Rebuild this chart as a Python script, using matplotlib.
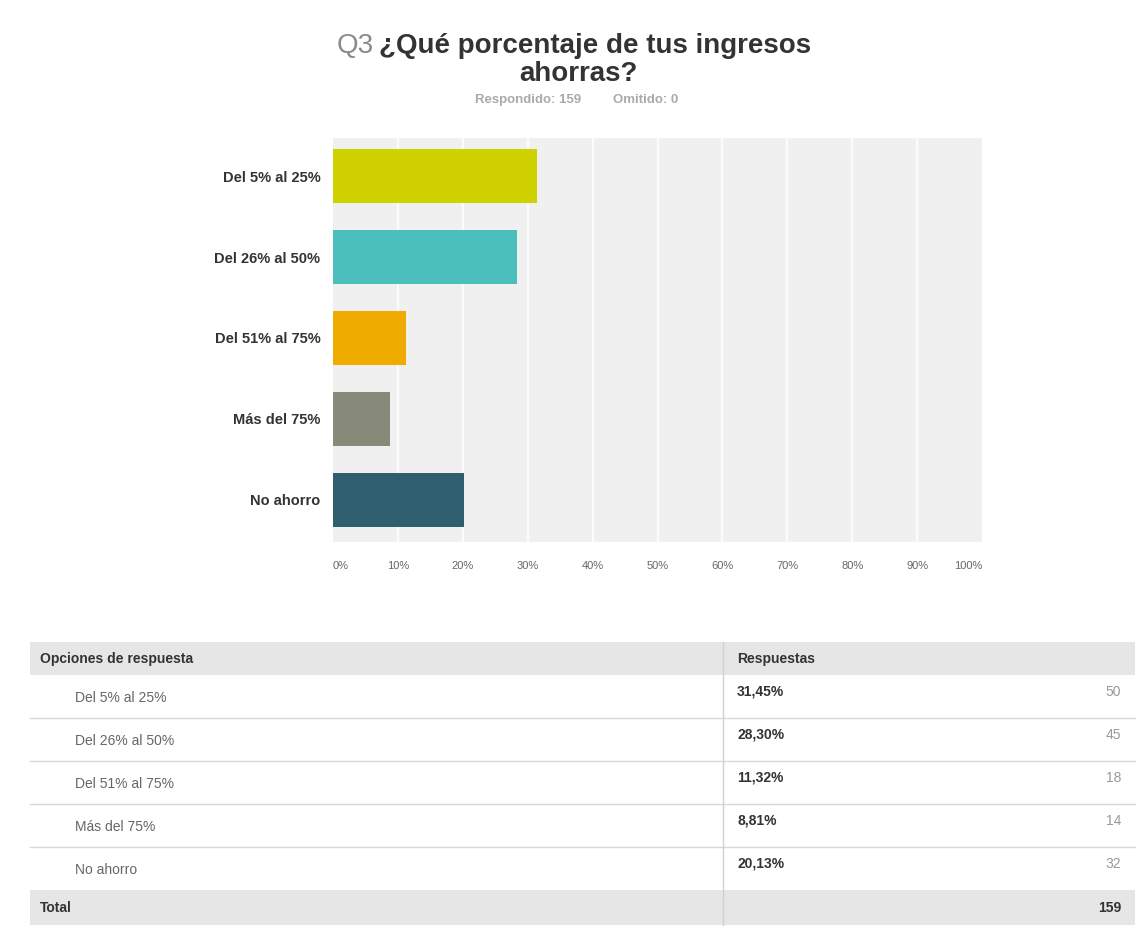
import matplotlib
matplotlib.use("Agg")
import matplotlib.pyplot as plt
from matplotlib.patches import Rectangle

plt.rcParams["font.family"] = ["Liberation Sans", "DejaVu Sans"]

# survey data
categories = ["Del 5% al 25%", "Del 26% al 50%", "Del 51% al 75%", "Más del 75%", "No ahorro"]
percentages = [31.45, 28.30, 11.32, 8.81, 20.13]
counts = [50, 45, 18, 14, 32]
total = 159
omitted = 0
bar_colors = ["#cfd200", "#4bbfbb", "#f0ab00", "#878a78", "#2f5f6e"]
xticks = list(range(0, 101, 10))

W, H = 1139, 930
fig = plt.figure(figsize=(W / 100, H / 100), dpi=100)
fig.patch.set_facecolor("white")

# ---- bar chart ----
ax = fig.add_axes([333 / W, 1 - 542 / H, 649 / W, 404 / H])
ax.set_facecolor("#f0f0f0")
for x in xticks[1:-1]:
    ax.axvline(x, color="#fbfbfb", linewidth=1.6, zorder=1)
ypos = list(range(len(categories)))
ax.barh(ypos, percentages, height=0.66, color=bar_colors, zorder=3)
ax.set_xlim(0, 100)
ax.set_ylim(4.52, -0.47)
ax.set_yticks(ypos)
ax.set_yticklabels(categories, fontsize=10.5, fontweight="bold", color="#333333")
ax.set_xticks(xticks)
ax.set_xticklabels([f"{x}%" for x in xticks], fontsize=8, color="#666666")
ax.tick_params(length=0)
ax.tick_params(axis="y", pad=9)
ax.tick_params(axis="x", pad=14)
labels = ax.get_xticklabels()
labels[0].set_horizontalalignment("left")
labels[-1].set_horizontalalignment("right")
for s in ax.spines.values():
    s.set_visible(False)

# ---- overlay for title and table (pixel coordinates) ----
ov = fig.add_axes([0, 0, 1, 1], zorder=-1)
ov.set_xlim(0, W)
ov.set_ylim(H, 0)
ov.axis("off")

ov.text(374, 46, "Q3", fontsize=20, color="#8a8a8a", ha="right", va="center")
ov.text(379, 46, "¿Qué porcentaje de tus ingresos", fontsize=20, fontweight="bold",
        color="#333333", ha="left", va="center")
ov.text(578, 74, "ahorras?", fontsize=20, fontweight="bold", color="#333333",
        ha="center", va="center")
ov.text(475, 100, f"Respondido: {total}", fontsize=9.5, color="#aaaaaa",
        fontweight="bold", ha="left", va="center")
ov.text(613, 100, f"Omitido: {omitted}", fontsize=9.5, color="#aaaaaa",
        fontweight="bold", ha="left", va="center")

# table
x0, x1, xdiv = 30, 1135, 723
head_top, head_h, row_h, tot_h = 642, 33, 43, 35
ov.add_patch(Rectangle((x0, head_top), x1 - x0, head_h, facecolor="#e6e6e6",
                       edgecolor="none"))
ov.text(40, head_top + head_h / 2, "Opciones de respuesta", fontsize=10,
        fontweight="bold", color="#333333", va="center")
ov.text(737, head_top + head_h / 2, "Respuestas", fontsize=10,
        fontweight="bold", color="#333333", va="center")

y = head_top + head_h
for i, (cat, pct, n) in enumerate(zip(categories, percentages, counts)):
    if i > 0:
        ov.plot([x0, x1], [y, y], color="#d8d8d8", linewidth=1)
    ov.text(75, y + row_h / 2 + 1, cat, fontsize=10, color="#666666", va="center")
    ov.text(737, y + row_h / 2 - 5, f"{pct:.2f}".replace(".", ",") + "%",
            fontsize=10, fontweight="bold", color="#333333", va="center")
    ov.text(1121, y + row_h / 2 - 5, str(n), fontsize=10, color="#999999",
            ha="right", va="center")
    y += row_h

ov.add_patch(Rectangle((x0, y), x1 - x0, tot_h, facecolor="#e6e6e6",
                       edgecolor="none"))
ov.text(40, y + tot_h / 2, "Total", fontsize=10, fontweight="bold",
        color="#333333", va="center")
ov.text(1121, y + tot_h / 2, str(total), fontsize=10, fontweight="bold",
        color="#333333", ha="right", va="center")
ov.plot([xdiv, xdiv], [head_top, y + tot_h], color="#d0d0d0", linewidth=1)

fig.savefig("out.png", dpi=100, facecolor="white")
